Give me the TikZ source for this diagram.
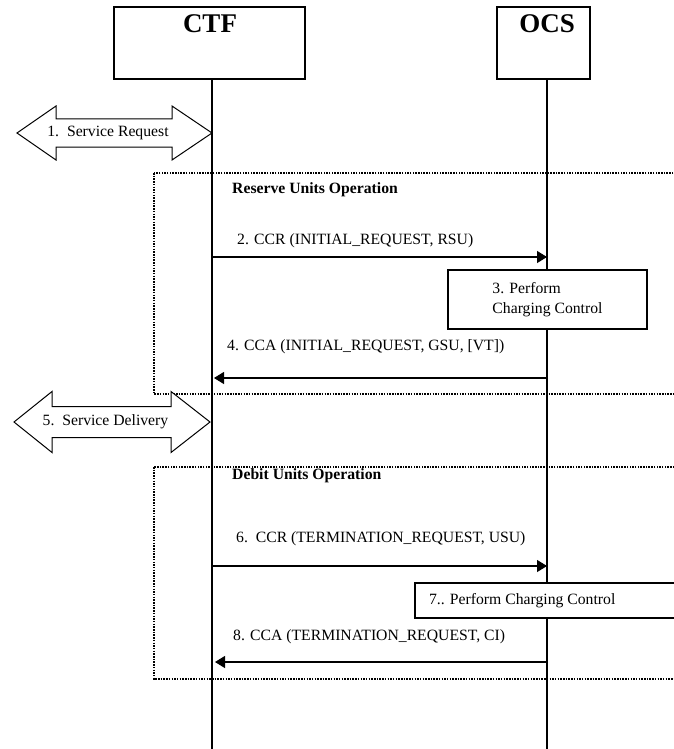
\documentclass[tikz,border=0pt]{standalone}
\usepackage{fontspec}
\setmainfont{Liberation Serif}
\usetikzlibrary{arrows.meta}

\begin{document}
\begin{tikzpicture}[x=1pt, y=-1pt,
               entity_style/.style={rectangle,draw=black,line width=1.2pt,inner sep=0pt},
               title_style/.style={font=\fontsize{27}{30}\selectfont\bfseries,inner sep=0pt},
               msg_text/.style={anchor=base west,inner sep=0pt,font=\fontsize{15.7}{20}\selectfont},
               op_text/.style={anchor=base west,inner sep=0pt,font=\fontsize{15.7}{20}\selectfont\bfseries},
               life_style/.style={draw=black,line width=1.2pt},
               msg_style/.style={draw=black,line width=1.2pt,-{Triangle[length=10pt,width=12pt]}},
               frame_style/.style={draw=black,line width=1.4pt,dash pattern=on 1.5pt off 1.2pt},
               block_style/.style={draw=black,line width=1pt,fill=white}]
                \useasboundingbox (0,0) rectangle (674,749);

                % entities and lifelines
                \node[entity_style,minimum width=191pt,minimum height=72pt] (ctf) at (209.5,43) {};
                \node[entity_style,minimum width=93pt,minimum height=72pt] (ocs) at (543.5,43) {};
                \node[title_style] (ctf_label) at (210,24) {CTF};
                \node[title_style] (ocs_label) at (547,24) {OCS};
                \coordinate (ctf_top) at (212,79);
                \coordinate (ctf_end) at (212,749);
                \coordinate (ocs_top) at (547,79);
                \coordinate (ocs_end) at (547,749);
                \draw[life_style] (ctf_top) -- (ctf_end);
                \draw[life_style] (ocs_top) -- (ocs_end);

                % operation frames
                \draw[frame_style] (154,173) rectangle (680,394);
                \draw[frame_style] (154,467) rectangle (680,679);
                \node[op_text] (reserve) at (232,193) {Reserve Units Operation};
                \node[op_text] (debit) at (232,479) {Debit Units Operation};

                % service request / delivery
                \draw[block_style] (17,133) -- (56,106) -- (56,119) -- (172,119) -- (172,106) -- (212,133)
                                   -- (172,160) -- (172,147) -- (56,147) -- (56,160) -- cycle;
                \node[inner sep=0pt,font=\fontsize{15.7}{20}\selectfont] (service_request) at (108,133) {1.\ \ Service Request};
                \draw[block_style] (14,422) -- (52,391.5) -- (52,406.5) -- (171,406.5) -- (171,391.5) -- (210,422)
                                   -- (171,452.5) -- (171,437.5) -- (52,437.5) -- (52,452.5) -- cycle;
                \node[inner sep=0pt,font=\fontsize{15.7}{20}\selectfont] (service_delivery) at (105.5,422) {5.\ \ Service Delivery};

                % messages
                \coordinate (m2_from) at (212,257);
                \coordinate (m2_to) at (547,257);
                \coordinate (m4_from) at (548,378);
                \coordinate (m4_to) at (214,378);
                \coordinate (m6_from) at (212,566);
                \coordinate (m6_to) at (547,566);
                \coordinate (m8_from) at (548,662);
                \coordinate (m8_to) at (215,662);

                \draw[msg_style] (m2_from) -- (m2_to);
                \node[msg_text] (m2_label) at (237,244) {2. CCR (INITIAL\_REQUEST, RSU)};
                \draw[msg_style] (m4_from) -- (m4_to);
                \node[msg_text] (m4_label) at (227,350) {4. CCA (INITIAL\_REQUEST, GSU, [VT])};
                \draw[msg_style] (m6_from) -- (m6_to);
                \node[msg_text] (m6_label) at (236,542) {6.\ \ CCR (TERMINATION\_REQUEST, USU)};
                \draw[msg_style] (m8_from) -- (m8_to);
                \node[msg_text] (m8_label) at (233,640) {8. CCA (TERMINATION\_REQUEST, CI)};

                % charging control
                \node[entity_style,fill=white,minimum width=199pt,minimum height=59pt,align=left,
                      font=\fontsize{15.7}{20}\selectfont] (control3) at (547.5,299.5) {3. Perform\\Charging Control};
                \node[entity_style,fill=white,minimum width=265pt,minimum height=35pt,
                      font=\fontsize{15.7}{20}\selectfont] (control7) at (547.5,600.5)
                      {\makebox[237pt][l]{7.. Perform Charging Control}};
            \end{tikzpicture}
\end{document}
